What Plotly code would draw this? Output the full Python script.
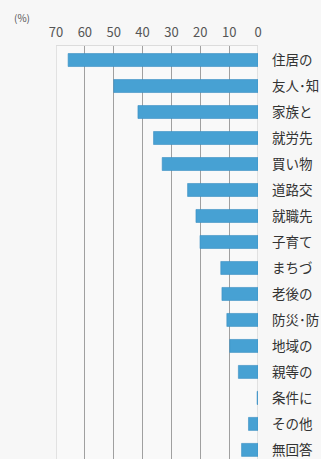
import plotly.graph_objects as go

# 回答項目（上から順）
items = [
    "住居の",
    "友人･知",
    "家族と",
    "就労先",
    "買い物",
    "道路交",
    "就職先",
    "子育て",
    "まちづ",
    "老後の",
    "防災･防",
    "地域の",
    "親等の",
    "条件に",
    "その他",
    "無回答",
]
# 回答割合（%）
share = [65.8, 50.0, 41.6, 36.2, 33.2, 24.4, 21.5, 20.1,
         12.9, 12.5, 10.8, 9.8, 6.8, 0.3, 3.3, 5.7]
x_ticks = [70, 60, 50, 40, 30, 20, 10, 0]

pos = list(range(len(items)))

fig = go.Figure(
    go.Bar(
        x=share,
        y=pos,
        orientation="h",
        width=0.5,
        marker=dict(color="#47a1d3", line=dict(color="#3b8fc2", width=0.6)),
        hoverinfo="skip",
    )
)

fig.update_layout(
    width=321,
    height=459,
    margin=dict(l=56, r=62.5, t=46, b=0),
    paper_bgcolor="#f7f7f7",
    plot_bgcolor="#f9f9f9",
    showlegend=False,
    font=dict(family="Noto Sans CJK JP", color="#3a3a3a"),
    bargap=0.5,
)

fig.update_xaxes(
    range=[70, 0],
    side="top",
    tickvals=x_ticks,
    ticktext=[str(v) for v in x_ticks],
    tickfont=dict(size=13, color="#555555"),
    ticks="",
    ticklabelstandoff=3,
    showgrid=True,
    gridcolor="#a0a0a0",
    gridwidth=1.4,
    zeroline=False,
    showline=True,
    linecolor="#dcdcdc",
    linewidth=1,
)

fig.update_yaxes(
    range=[15.35, -0.54],
    side="right",
    tickvals=pos,
    ticktext=items,
    tickfont=dict(size=13.5, color="#333333"),
    ticks="",
    ticklabelstandoff=13,
    showgrid=False,
    zeroline=False,
    showline=False,
    automargin=False,
)

# 左端（70%）の罫線は薄く
fig.add_shape(
    type="line", xref="x", yref="paper", x0=70, x1=70, y0=0, y1=1,
    line=dict(color="#e2e2e2", width=2), layer="between",
)
# 0%の軸線
fig.add_shape(
    type="line", xref="x", yref="paper", x0=0, x1=0, y0=0, y1=1,
    line=dict(color="#c8c8c8", width=1), layer="between",
)

fig.add_annotation(
    text="(%)",
    xref="paper", yref="paper",
    x=-0.168, y=1.069,
    xanchor="center", yanchor="middle",
    showarrow=False,
    font=dict(size=10, color="#555555"),
)

fig.write_html("out.html")
